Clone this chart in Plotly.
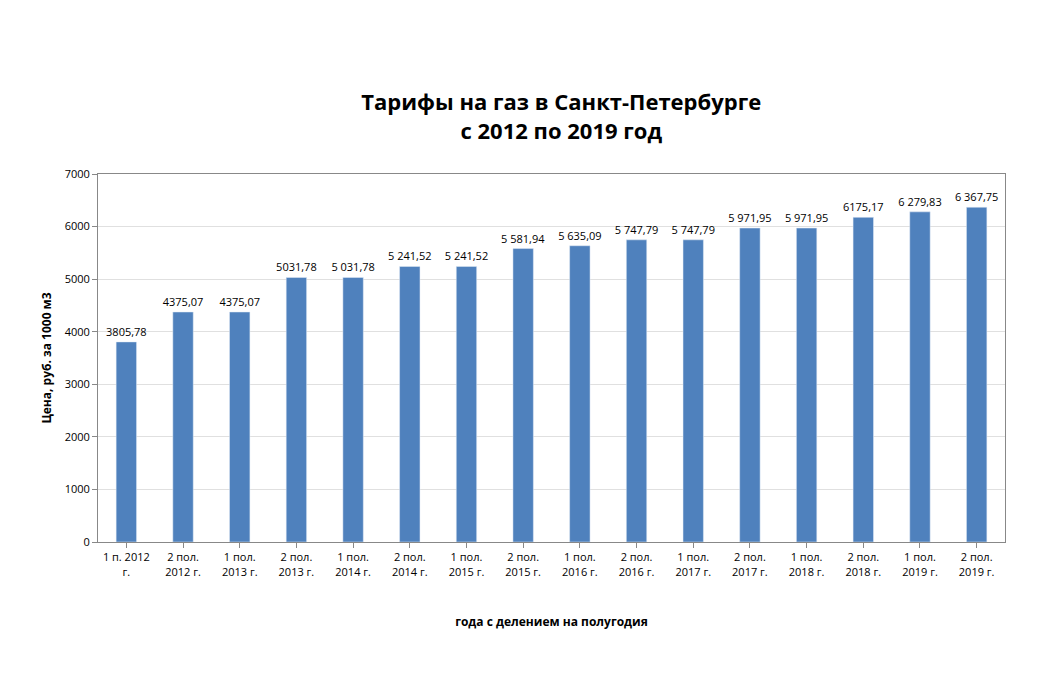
import plotly.graph_objects as go

categories = ["1 п. 2012<br>г.", "2 пол.<br>2012 г.", "1 пол.<br>2013 г.", "2 пол.<br>2013 г.",
              "1 пол.<br>2014 г.", "2 пол.<br>2014 г.", "1 пол.<br>2015 г.", "2 пол.<br>2015 г.",
              "1 пол.<br>2016 г.", "2 пол.<br>2016 г.", "1 пол.<br>2017 г.", "2 пол.<br>2017 г.",
              "1 пол.<br>2018 г.", "2 пол.<br>2018 г.", "1 пол.<br>2019 г.", "2 пол.<br>2019 г."]
values = [3805.78, 4375.07, 4375.07, 5031.78, 5031.78, 5241.52, 5241.52, 5581.94,
          5635.09, 5747.79, 5747.79, 5971.95, 5971.95, 6175.17, 6279.83, 6367.75]
labels = ["3805,78", "4375,07", "4375,07", "5031,78", "5 031,78", "5 241,52", "5 241,52", "5 581,94",
          "5 635,09", "5 747,79", "5 747,79", "5 971,95", "5 971,95", "6175,17", "6 279,83", "6 367,75"]
y_ticks = [0, 1000, 2000, 3000, 4000, 5000, 6000, 7000]

fig = go.Figure(go.Bar(
    x=categories, y=values, text=labels, textposition="outside", textangle=0,
    constraintext="none",
    textfont=dict(size=11, color="black"), cliponaxis=False,
    marker=dict(color="#4F81BD"), width=0.36))

fig.update_layout(
    width=1038, height=680, plot_bgcolor="white", paper_bgcolor="white",
    font=dict(family="Open Sans, Liberation Sans, sans-serif", size=11, color="black"),
    margin=dict(l=90, r=41, t=166, b=146),
    title=dict(text="<b>Тарифы на газ в Санкт-Петербурге<br>с 2012 по 2019 год</b>",
               x=0.533, xanchor="center", y=0.85, yanchor="middle",
               font=dict(size=22, color="black")),
    showlegend=False, bargap=0.6,
)
fig.update_xaxes(showline=True, linecolor="#888", mirror=True, ticks="outside", ticklen=5,
                 tickcolor="#888", tickfont=dict(size=11),
                 title=dict(text="<b>года с делением на полугодия</b>", standoff=40, font=dict(size=12)))
fig.update_yaxes(range=[0, 7000], tickvals=y_ticks, showgrid=True, gridcolor="#e0e0e0",
                 showline=True, linecolor="#888", mirror=True, ticks="outside", ticklen=5, tickcolor="#888",
                 zeroline=False, tickfont=dict(size=11),
                 title=dict(text="<b>Цена, руб. за 1000 м3</b>", standoff=10, font=dict(size=12)))

fig.write_html("out.html")
